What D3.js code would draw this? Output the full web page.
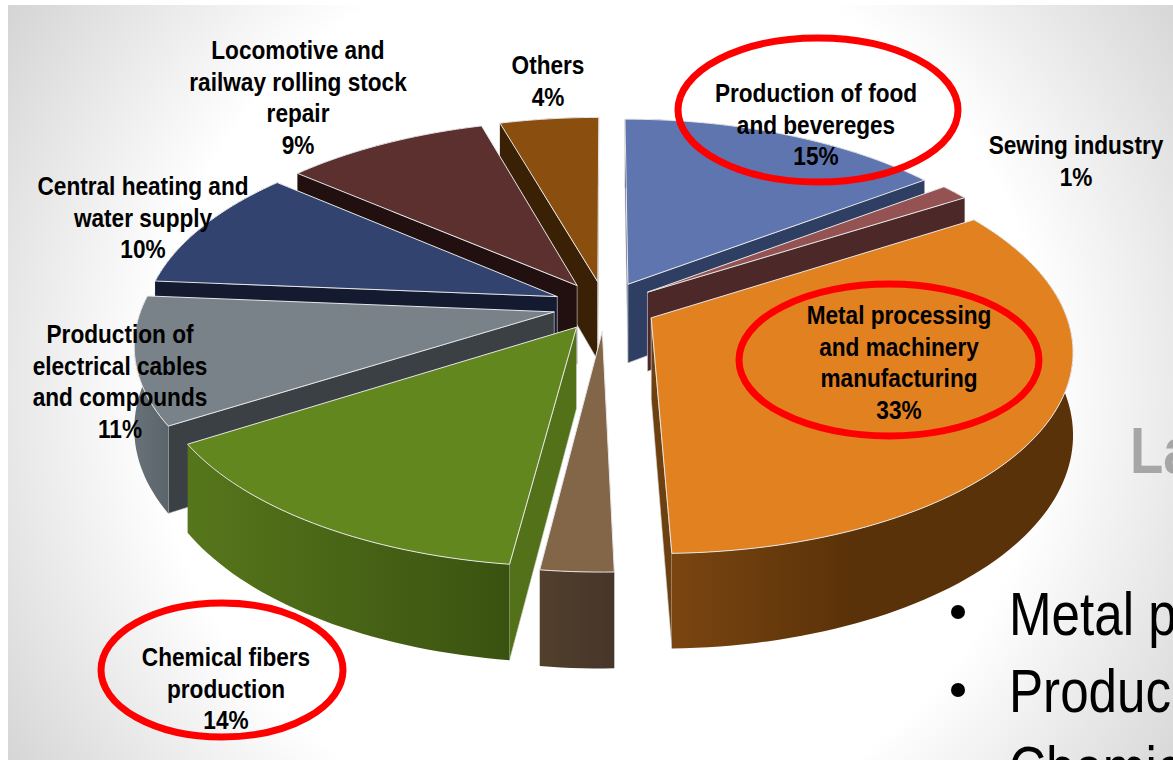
<!DOCTYPE html>
<html>
<head>
<meta charset="utf-8">
<script src="https://cdnjs.cloudflare.com/ajax/libs/d3/7.8.5/d3.min.js"></script>
<style>
    html, body { margin: 0; padding: 0; background: #fff; }
    svg { display: block; }
    text { font-family: "Liberation Sans", sans-serif; }
</style>
</head>
<body>
<div id="chart"></div>
<script>
// slices, clockwise from 12 o'clock
var sliceNames = ['Production of food and bevereges', 'Sewing industry',
    'Metal processing and machinery manufacturing', '',
    'Chemical fibers production', 'Production of electrical cables and compounds',
    'Central heating and water supply', 'Locomotive and railway rolling stock repair', 'Others'];
// shares; the printed percentages are below
var sliceValues = [14.8, 1.3, 33.5, 2.4, 14.1, 10.2, 9.9, 9.3, 4.5];
var printedPercents = [15, 1, 33, null, 14, 11, 10, 9, 4];
var labelLines = [
    ['Production of food', 'and bevereges'],
    ['Sewing industry'],
    ['Metal processing', 'and machinery', 'manufacturing'],
    [],
    ['Chemical fibers', 'production'],
    ['Production of', 'electrical cables', 'and compounds'],
    ['Central heating and', 'water supply'],
    ['Locomotive and', 'railway rolling stock', 'repair'],
    ['Others']
];
var circledSlices = ['Production of food and bevereges',
    'Metal processing and machinery manufacturing', 'Chemical fibers production'];
var sideTitle = 'La';
var sideBullets = ['Metal p', 'Produc', 'Chemic'];

// layout, kept apart from the values
var width = 1173;
var height = 760;
var topColors = ['#5f75b0', '#955252', '#e28120', '#836548', '#63871f', '#798288', '#33436f', '#5d3030', '#8a4e0e'];
var wallColors = ['#2f3e63', '#4c2828', '#6e4010', '#4a3826', '#527119', '#3a4043', '#141a30', '#221010', '#3a2106'];
var rimColors = [['#2f3e63', '#2f3e63'], ['#4c2828', '#4c2828'], ['#7a4510', '#5a3209'], ['#52402c', '#46352a'],
    ['#56761b', '#3a5210'], ['#687278', '#5b646a'], ['#141a30', '#141a30'], ['#221010', '#221010'], ['#3a2106', '#3a2106']];
var labelSpots = [[816, 102], [1076, 154], [899, 324], null, [226, 666], [120, 343], [143, 195], [298, 59], [548, 74]];
var ringSpots = [[818, 110, 140, 72], [889, 360, 150, 76], [222, 670, 121, 67]];

var cx = 605, cy = 306;   // pie centre on screen
var R = 412;              // radius on the table plane
var tilt = 0.476;         // squash of the plane
var persp = 0.151;        // far side shrinks, near side grows
var depth = 80;           // thickness
var explode = 52;         // slices pulled out from the centre

function project(u, v, z) {
    var w = 1 + persp * v / R;
    return [cx + u / w, cy - tilt * v / w + depth * z / w];
}

var pie = d3.pie().value(d => d).sort(null);
var slices = pie(sliceValues).map((s, i) => {
    var mid = (s.startAngle + s.endAngle) / 2;
    return {
        i: i,
        a0: s.startAngle,
        a1: s.endAngle,
        mid: mid,
        ox: explode * Math.sin(mid),
        oy: explode * Math.cos(mid)
    };
});

function apex(s, z) {
    return project(s.ox, s.oy, z);
}
function rimPoint(s, a, z) {
    return project(s.ox + R * Math.sin(a), s.oy + R * Math.cos(a), z);
}
function rim(s, z) {
    var n = Math.max(4, Math.ceil((s.a1 - s.a0) * 40));
    return d3.range(n + 1).map(j => rimPoint(s, s.a0 + (s.a1 - s.a0) * j / n, z));
}

var line = d3.line();
function closed(pts) {
    return line(pts) + 'Z';
}

const svg = d3.select('#chart')
    .append('svg')
    .attr('width', width)
    .attr('height', height)
    .attr('viewBox', [0, 0, width, height]);

var defs = svg.append('defs');

var bg = defs.append('radialGradient')
    .attr('id', 'bg')
    .attr('gradientUnits', 'userSpaceOnUse')
    .attr('cx', 600).attr('cy', 390).attr('r', 720);
bg.append('stop').attr('offset', 0.62).attr('stop-color', '#ffffff');
bg.append('stop').attr('offset', 1).attr('stop-color', '#d2d2d2');

slices.forEach(s => {
    var g = defs.append('linearGradient').attr('id', 'rim' + s.i);
    g.append('stop').attr('offset', 0).attr('stop-color', rimColors[s.i][0]);
    g.append('stop').attr('offset', s.i === 2 ? 0.45 : 1).attr('stop-color', rimColors[s.i][1]);
});

svg.append('rect')
    .attr('x', 8).attr('y', 5)
    .attr('width', width - 8).attr('height', height - 5)
    .attr('fill', 'url(#bg)');

// narrow text: the source slide is squeezed sideways
function narrowText(parent, t, x, y, size, sx) {
    return parent.append('text')
        .attr('transform', `translate(${x},${y}) scale(${sx},1)`)
        .attr('font-size', size)
        .text(t);
}

// side text of the slide behind the chart
narrowText(svg, sideTitle, 1130, 473, 64, 0.85)
    .attr('font-weight', 'bold')
    .attr('fill', '#a6a6a6');

var bullets = svg.append('g');
sideBullets.forEach((t, i) => {
    bullets.append('circle')
        .attr('cx', 958).attr('cy', 612 + i * 78).attr('r', 7)
        .attr('fill', '#000');
    narrowText(bullets, t, 1009, 635 + i * 77, 62, 0.825)
        .attr('fill', '#000');
});

// back to front
var order = slices.slice().sort((a, b) => Math.cos(b.mid) - Math.cos(a.mid));
var pieG = svg.append('g');

order.forEach(s => {
    var g = pieG.append('g');
    var startWall = [apex(s, 0), rimPoint(s, s.a0, 0), rimPoint(s, s.a0, 1), apex(s, 1)];
    var endWall = [apex(s, 0), rimPoint(s, s.a1, 0), rimPoint(s, s.a1, 1), apex(s, 1)];

    // d3.polygonArea is positive for counterclockwise on screen
    if (d3.polygonArea(startWall) > 0) {
        g.append('path').attr('d', closed(startWall)).attr('fill', wallColors[s.i])
            .attr('stroke', '#d8d8d8').attr('stroke-width', 0.6);
    }
    if (d3.polygonArea(endWall) < 0) {
        g.append('path').attr('d', closed(endWall)).attr('fill', wallColors[s.i])
            .attr('stroke', '#d8d8d8').attr('stroke-width', 0.6);
    }

    g.append('path')
        .attr('d', closed(rim(s, 0).concat(rim(s, 1).reverse())))
        .attr('fill', 'url(#rim' + s.i + ')');

    g.append('path')
        .attr('d', closed([apex(s, 0)].concat(rim(s, 0))))
        .attr('fill', topColors[s.i])
        .attr('stroke', '#e6e6e6')
        .attr('stroke-width', 1)
        .attr('stroke-linejoin', 'round');
});

// labels
var labels = svg.append('g').attr('text-anchor', 'middle');
slices.forEach(s => {
    var spot = labelSpots[s.i];
    if (!spot) return;
    var rows = labelLines[s.i].concat(printedPercents[s.i] + '%');
    rows.forEach((t, j) => {
        narrowText(labels, t, spot[0], spot[1] + j * 31.7, 26, 0.87)
            .attr('font-weight', 'bold')
            .attr('fill', '#000');
    });
});

// red rings round the three biggest branches
svg.append('g')
    .selectAll('ellipse')
    .data(circledSlices)
    .join('ellipse')
    .attr('cx', (d, i) => ringSpots[i][0])
    .attr('cy', (d, i) => ringSpots[i][1])
    .attr('rx', (d, i) => ringSpots[i][2])
    .attr('ry', (d, i) => ringSpots[i][3])
    .attr('fill', 'none')
    .attr('stroke', '#ff0000')
    .attr('stroke-width', 7);
</script>
</body>
</html>
